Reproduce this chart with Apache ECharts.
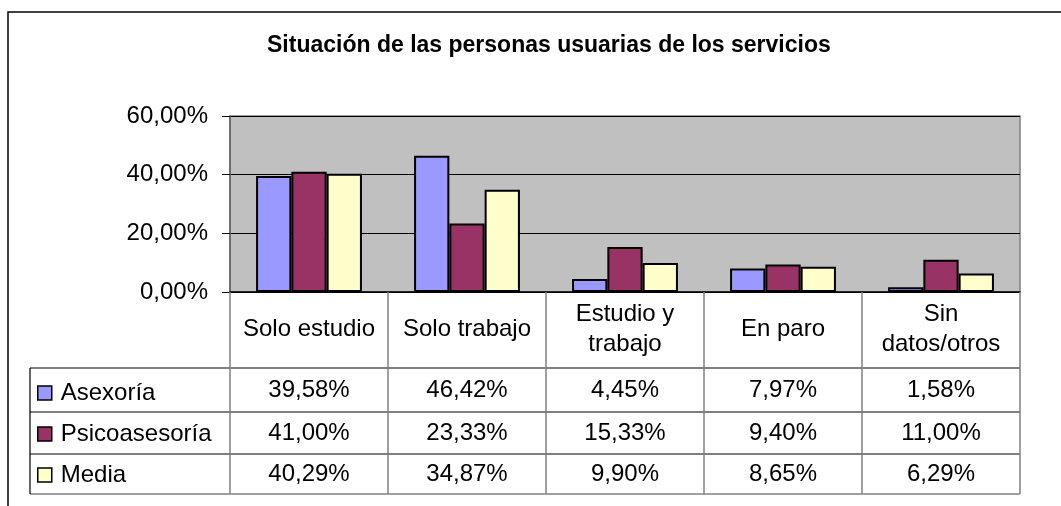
<!DOCTYPE html>
<html>
<head>
<meta charset="utf-8">
<script src="https://cdn.jsdelivr.net/npm/echarts@6/dist/echarts.min.js"></script>
<style>
  html, body { margin: 0; padding: 0; background: #fff; }
  #main { width: 1061px; height: 506px; }
</style>
</head>
<body>
<div id="main"></div>
<script>
// datos
var categorias = ['Solo estudio', 'Solo trabajo', 'Estudio y\ntrabajo', 'En paro', 'Sin\ndatos/otros'];
var asexoria = [39.58, 46.42, 4.45, 7.97, 1.58];
var psicoasesoria = [41.00, 23.33, 15.33, 9.40, 11.00];
var media = [40.29, 34.87, 9.90, 8.65, 6.29];
var nombres = ['Asexoría', 'Psicoasesoría', 'Media'];
var colores = ['#9999ff', '#993366', '#ffffcc'];
var ticksY = [0, 20, 40, 60];

var fuente = 'Liberation Sans';
var filas = [asexoria, psicoasesoria, media];

function pct(v) {
  return v.toFixed(2).replace('.', ',') + '%';
}

let myChart = echarts.init(document.getElementById('main'));

// ejes extra: una fila de la tabla cada uno
let filaMargins = [98, 141, 182];
let ejesTabla = filas.map(function (serie, i) {
  return {
    type: 'category',
    data: categorias,
    position: 'bottom',
    axisLine: { show: false },
    axisTick: { show: false },
    axisLabel: {
      interval: 0,
      margin: filaMargins[i],
      verticalAlign: 'middle',
      fontFamily: fuente,
      fontSize: 24,
      color: '#000',
      formatter: function (val, idx) {
        return pct(serie[idx]);
      }
    }
  };
});

let option = {
  animation: false,
  textStyle: { fontFamily: fuente },
  title: {
    text: 'Situación de las personas usuarias de los servicios',
    left: 262,
    top: 29,
    textStyle: {
      fontFamily: fuente,
      fontSize: 23,
      fontWeight: 'bold',
      color: '#000'
    }
  },
  legend: {
    orient: 'vertical',
    left: 37,
    top: 381,
    padding: 0,
    itemGap: 17,
    itemWidth: 14,
    itemHeight: 14,
    icon: 'rect',
    selectedMode: false,
    data: nombres,
    itemStyle: { borderColor: '#000', borderWidth: 1.5 },
    textStyle: {
      fontFamily: fuente,
      fontSize: 24,
      color: '#000',
      padding: [0, 0, 0, 4]
    }
  },
  grid: {
    left: 230,
    right: 41,
    top: 116,
    bottom: 214,
    show: true,
    backgroundColor: '#c0c0c0',
    borderColor: '#808080',
    borderWidth: 1.5,
    outerBoundsMode: 'none'
  },
  xAxis: [{
    type: 'category',
    data: categorias,
    position: 'bottom',
    axisLine: { lineStyle: { color: '#000', width: 1.5 } },
    axisTick: {
      show: true,
      length: 202,
      lineStyle: { color: '#808080', width: 1.5 }
    },
    axisLabel: {
      interval: 0,
      margin: 37,
      verticalAlign: 'middle',
      lineHeight: 30,
      fontFamily: fuente,
      fontSize: 24,
      color: '#000'
    }
  }].concat(ejesTabla),
  yAxis: {
    type: 'value',
    min: 0,
    max: 60,
    interval: 20,
    axisLine: { show: true, lineStyle: { color: '#606060', width: 1.5 } },
    axisTick: { show: true, length: 8, lineStyle: { color: '#000' } },
    splitLine: { lineStyle: { color: '#000', width: 1 } },
    axisLabel: {
      margin: 22,
      fontFamily: fuente,
      fontSize: 24,
      color: '#000',
      formatter: function (v) { return pct(v); }
    }
  },
  series: filas.map(function (serie, i) {
    return {
      name: nombres[i],
      type: 'bar',
      data: serie,
      barGap: '0%',
      barCategoryGap: '33%',
      itemStyle: {
        color: colores[i],
        borderColor: '#000',
        borderWidth: 2
      }
    };
  }),
  graphic: [
    // marco del grafico
    { type: 'rect', shape: { x: 8, y: 12, width: 1200, height: 600 },
      style: { fill: 'none', stroke: '#000', lineWidth: 1.5 } },
    // lineas de la tabla
    { type: 'line', shape: { x1: 30, y1: 368, x2: 1020, y2: 368 }, style: { stroke: '#000', lineWidth: 1.2 } },
    { type: 'line', shape: { x1: 30, y1: 412, x2: 1020, y2: 412 }, style: { stroke: '#000', lineWidth: 1.2 } },
    { type: 'line', shape: { x1: 30, y1: 454, x2: 1020, y2: 454 }, style: { stroke: '#000', lineWidth: 1.2 } },
    { type: 'line', shape: { x1: 30, y1: 494, x2: 1020, y2: 494 }, style: { stroke: '#808080', lineWidth: 1.5 } },
    { type: 'line', shape: { x1: 30, y1: 368, x2: 30, y2: 494 }, style: { stroke: '#000', lineWidth: 1.2 } }
  ]
};

myChart.setOption(option);
</script>
</body>
</html>
